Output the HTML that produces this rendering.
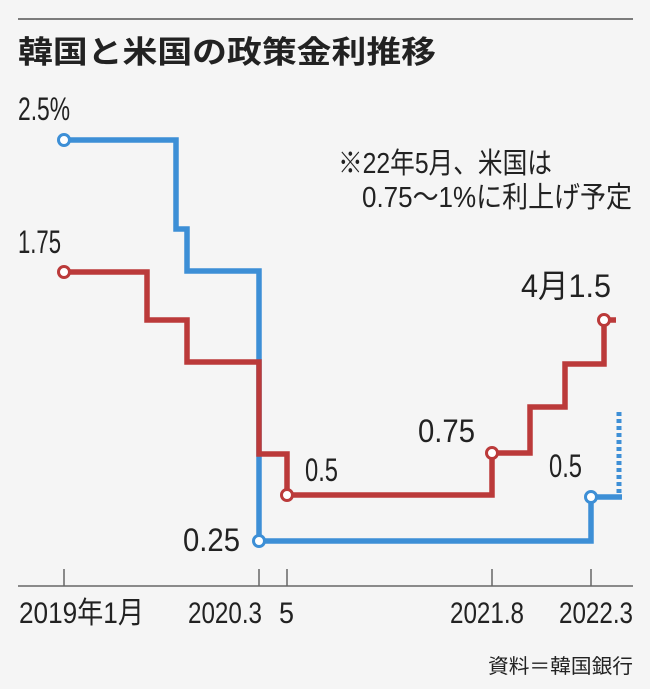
<!DOCTYPE html>
<html><head><meta charset="utf-8"><style>
html,body{margin:0;padding:0;background:#f5f5f5;}
svg{display:block;}
text{font-family:"Liberation Sans","Noto Sans CJK JP",sans-serif;fill:#222;}
</style></head><body>
<svg width="650" height="689" viewBox="0 0 650 689">
<rect width="650" height="689" fill="#f5f5f5"/>
<line x1="18" y1="19" x2="633" y2="19" stroke="#555" stroke-width="1.5"/>
<text x="18" y="63" font-size="31" font-weight="bold" fill="#111" textLength="418" lengthAdjust="spacingAndGlyphs">韓国と米国の政策金利推移</text>

<g font-size="32">
<text x="18" y="120" textLength="52" lengthAdjust="spacingAndGlyphs">2.5%</text>
<text x="18" y="253" textLength="43" lengthAdjust="spacingAndGlyphs">1.75</text>
<text x="338" y="173" font-size="29" textLength="214" lengthAdjust="spacingAndGlyphs">※22年5月、米国は</text>
<text x="362" y="207" font-size="29" textLength="270" lengthAdjust="spacingAndGlyphs">0.75～1%に利上げ予定</text>
<text x="521" y="297" textLength="90" lengthAdjust="spacingAndGlyphs">4月1.5</text>
<text x="418" y="442" textLength="57" lengthAdjust="spacingAndGlyphs">0.75</text>
<text x="305" y="481" textLength="33" lengthAdjust="spacingAndGlyphs">0.5</text>
<text x="549" y="477" textLength="33" lengthAdjust="spacingAndGlyphs">0.5</text>
<text x="183" y="551" textLength="57" lengthAdjust="spacingAndGlyphs">0.25</text>
</g>

<polyline fill="none" stroke="#3d8fd6" stroke-width="5.5" stroke-linejoin="miter"
 points="63,140 176,140 176,229 187,229 187,271 259,271 259,541 591,541 591,497 622,497"/>
<line x1="619" y1="412" x2="619" y2="493" stroke="#3d8fd6" stroke-width="5" stroke-dasharray="4,3"/>
<polyline fill="none" stroke="#bb3a3a" stroke-width="5.5" stroke-linejoin="miter"
 points="63,272 147,272 147,320 187,320 187,362 259,362 259,454 287,454 287,495 492,495 492,453 530,453 530,407 565,407 565,364 604,364 604,320 616,320"/>

<g stroke-width="3" fill="#fff">
<circle cx="64" cy="140" r="5.5" stroke="#3d8fd6"/>
<circle cx="259" cy="541" r="5.5" stroke="#3d8fd6"/>
<circle cx="591" cy="497" r="5.5" stroke="#3d8fd6"/>
<circle cx="64" cy="272" r="5.5" stroke="#bb3a3a"/>
<circle cx="287" cy="495" r="5.5" stroke="#bb3a3a"/>
<circle cx="492" cy="453" r="5.5" stroke="#bb3a3a"/>
<circle cx="604" cy="320" r="5.5" stroke="#bb3a3a"/>
</g>

<g stroke="#666" stroke-width="1.5">
<line x1="18" y1="586" x2="633" y2="586"/>
<line x1="64" y1="569" x2="64" y2="586"/>
<line x1="259" y1="569" x2="259" y2="586"/>
<line x1="287" y1="569" x2="287" y2="586"/>
<line x1="492" y1="569" x2="492" y2="586"/>
<line x1="591" y1="569" x2="591" y2="586"/>
</g>
<g font-size="30">
<text x="19" y="623" textLength="125" lengthAdjust="spacingAndGlyphs">2019年1月</text>
<text x="188" y="623" textLength="74" lengthAdjust="spacingAndGlyphs">2020.3</text>
<text x="279" y="623" textLength="15" lengthAdjust="spacingAndGlyphs">5</text>
<text x="450" y="623" textLength="74" lengthAdjust="spacingAndGlyphs">2021.8</text>
<text x="559" y="623" textLength="74" lengthAdjust="spacingAndGlyphs">2022.3</text>
</g>
<text x="488" y="673" font-size="20" textLength="145" lengthAdjust="spacingAndGlyphs">資料＝韓国銀行</text>
</svg>
</body></html>
